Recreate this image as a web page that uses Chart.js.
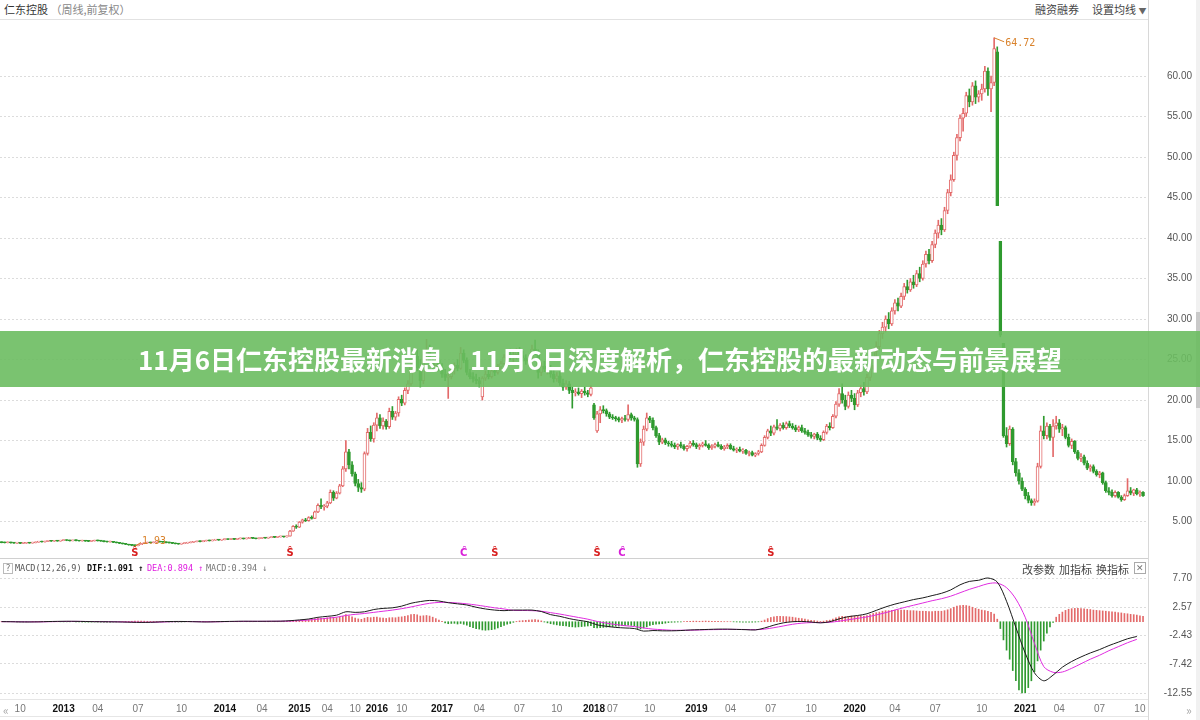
<!DOCTYPE html>
<html>
<head>
<meta charset="utf-8">
<script src="https://cdn.jsdelivr.net/npm/chart.js@4.4.1/dist/chart.umd.min.js"></script>
<style>
body{margin:0;width:1200px;height:720px;overflow:hidden;background:#fff;position:relative;font-family:"Noto Sans CJK SC",sans-serif}
.abs{position:absolute}
.ln{position:absolute;background:#e2e2e2}
#banner{left:0;top:331px;width:1200px;height:56px;background:rgba(108,188,96,0.9);color:#fff;font-weight:bold;font-size:26px;line-height:56px;text-align:center;letter-spacing:0px}
.leg{font-family:"DejaVu Sans Mono",monospace;font-size:8.5px;top:563px}
.btn{font-size:11px;color:#444;top:561px}
</style>
</head>
<body>
<div class="abs" style="left:4px;top:1px;font-size:11px;color:#333">仁东控股 <span style="color:#888">（周线,前复权）</span></div>
<div class="abs" style="left:1035px;top:1px;font-size:11px;color:#444">融资融券</div>
<div class="abs" style="left:1092px;top:1px;font-size:11px;color:#444">设置均线 <span style="font-size:8px;color:#666">▼</span></div>
<div class="ln" style="left:0;top:19px;width:1148px;height:1px"></div>
<div class="ln" style="left:1148px;top:0;width:1px;height:720px;background:#d8d8d8"></div>
<div class="ln" style="left:0;top:558px;width:1148px;height:1px;background:#d0d0d0"></div>
<div class="ln" style="left:0;top:699px;width:1148px;height:1px;background:#e6e6e6"></div>
<div class="ln" style="left:0;top:716px;width:1148px;height:1px;background:#e6e6e6"></div>
<div class="ln" style="left:1196px;top:0;width:4px;height:720px;background:#f1f1f1"></div>
<div class="ln" style="left:1196px;top:312px;width:4px;height:96px;background:#c9c9c9"></div>

<canvas id="kline" class="abs" style="left:0;top:20px" width="1200" height="538"></canvas>
<canvas id="macd" class="abs" style="left:0;top:560px" width="1200" height="160"></canvas>

<div class="abs leg" style="left:3px;color:#777;border:1px solid #bbb;width:8px;height:9px;line-height:9px;text-align:center">?</div>
<div class="abs leg" style="left:15px;color:#555">MACD(12,26,9)</div>
<div class="abs leg" style="left:87px;color:#111;font-weight:bold">DIF:1.091 ↑</div>
<div class="abs leg" style="left:147px;color:#e020e0">DEA:0.894 ↑</div>
<div class="abs leg" style="left:206px;color:#777">MACD:0.394 ↓</div>
<div class="abs btn" style="left:1022px">改参数</div>
<div class="abs btn" style="left:1059px">加指标</div>
<div class="abs btn" style="left:1096px">换指标</div>
<div class="abs" style="left:1134px;top:562px;width:10px;height:10px;border:1px solid #aaa;font-size:9px;line-height:10px;text-align:center;color:#777">✕</div>
<div class="abs" style="left:3px;top:701px;font-size:12px;color:#aaa">«</div>
<div class="abs" style="left:1186px;top:701px;font-size:12px;color:#aaa">»</div>

<div id="banner" class="abs">11月6日仁东控股最新消息，11月6日深度解析，仁东控股的最新动态与前景展望</div>

<script>
// weekly candles [open, high, low, close]
const era2012 = [
  [2.42,2.45,2.37,2.40],[2.40,2.43,2.35,2.38],[2.38,2.45,2.36,2.42],[2.42,2.43,2.34,2.36],[2.36,2.38,2.30,2.33],
  [2.33,2.38,2.31,2.35],[2.35,2.36,2.28,2.30],[2.30,2.35,2.28,2.32],[2.32,2.39,2.31,2.36],[2.36,2.38,2.31,2.34],
  [2.34,2.41,2.33,2.38],[2.38,2.48,2.36,2.45],[2.45,2.56,2.44,2.52],[2.52,2.54,2.45,2.48],[2.48,2.58,2.46,2.55],
  [2.55,2.64,2.53,2.60],[2.60,2.62,2.54,2.57],[2.57,2.66,2.55,2.62],[2.62,2.64,2.56,2.58],[2.58,2.68,2.57,2.65],
  [2.65,2.74,2.63,2.70],[2.70,2.72,2.63,2.66],[2.66,2.68,2.59,2.62],[2.62,2.71,2.60,2.68],[2.68,2.70,2.61,2.64],
  [2.64,2.66,2.57,2.60],[2.60,2.67,2.58,2.63],[2.63,2.65,2.55,2.58],[2.58,2.60,2.52,2.55],[2.55,2.63,2.53,2.60],
  [2.60,2.70,2.58,2.66],[2.66,2.68,2.59,2.62],[2.62,2.64,2.55,2.58],[2.58,2.60,2.49,2.52],[2.52,2.54,2.45,2.48],
  [2.48,2.54,2.46,2.50],[2.50,2.52,2.39,2.42],[2.42,2.44,2.35,2.38],[2.38,2.40,2.27,2.30],[2.30,2.32,2.22,2.25],
  [2.25,2.27,2.15,2.18],[2.18,2.20,2.07,2.10],[2.10,2.12,2.01,2.05],[2.05,2.08,1.93,2.02],[2.02,2.18,2.00,2.15],
  [2.15,2.32,2.13,2.28],[2.28,2.38,2.26,2.35],[2.35,2.46,2.33,2.42],[2.42,2.44,2.34,2.38],[2.38,2.48,2.36,2.45],
  [2.45,2.56,2.43,2.52],[2.52,2.54,2.45,2.48],[2.48,2.50,2.41,2.44],[2.44,2.46,2.37,2.40],[2.40,2.42,2.33,2.36],
  [2.36,2.38,2.27,2.30],[2.30,2.32,2.23,2.26],[2.26,2.28,2.19,2.22],[2.22,2.31,2.20,2.28],[2.28,2.37,2.26,2.34],
  [2.34,2.41,2.32,2.38],[2.38,2.47,2.36,2.44],[2.44,2.53,2.42,2.50],[2.50,2.59,2.48,2.56],[2.56,2.58,2.49,2.52],
  [2.52,2.63,2.50,2.60],[2.60,2.69,2.58,2.66],[2.66,2.68,2.59,2.62],[2.62,2.73,2.60,2.70],[2.70,2.78,2.68,2.74],
  [2.74,2.76,2.67,2.70],[2.70,2.79,2.68,2.76],[2.76,2.84,2.74,2.80],[2.80,2.82,2.75,2.78],[2.78,2.88,2.76,2.84],
  [2.84,2.86,2.77,2.80],[2.80,2.90,2.78,2.86],[2.86,2.94,2.84,2.90],[2.90,2.92,2.83,2.86],[2.86,2.96,2.84,2.92],
  [2.92,3.00,2.90,2.96],[2.96,2.98,2.89,2.92],[2.92,2.94,2.85,2.88],[2.88,2.97,2.86,2.94],[2.94,3.04,2.92,3.00],
  [3.00,3.02,2.93,2.96],[2.96,3.06,2.94,3.02],[3.02,3.12,3.00,3.08],[3.08,3.10,3.01,3.04],[3.04,3.14,3.02,3.10],
  [3.10,3.18,3.08,3.14],[3.14,3.16,3.06,3.10],[3.10,3.24,3.08,3.20]
];
const era2015 = [
  [3.20,3.90,3.18,3.82],[3.82,4.50,3.78,4.40],[4.40,4.60,4.15,4.30],[4.30,5.00,4.25,4.92],[4.92,5.30,4.80,5.20],
  [5.20,5.40,5.00,5.10],[5.10,5.60,5.05,5.50],[5.50,5.70,5.30,5.40],[5.40,6.30,5.35,6.20],[6.20,7.20,6.10,7.00],
  [7.00,7.80,6.60,6.80],[6.80,7.10,6.40,6.90],[6.90,7.50,6.70,7.30],[7.30,8.90,7.20,8.60],[8.60,8.80,7.60,7.90],
  [7.90,8.70,7.80,8.50],[8.50,9.60,8.40,9.40],[9.40,11.80,9.30,11.50],[11.50,15.00,11.20,13.60],[13.60,13.90,11.50,12.00],
  [12.00,12.40,10.60,10.90],[10.90,11.10,9.40,9.70],[9.70,10.20,8.70,9.20],[9.20,9.80,8.60,9.00],[9.00,13.60,8.80,13.40],
  [13.40,16.50,13.20,16.00],[16.00,16.80,14.90,15.20],[15.20,17.20,14.80,16.90],[16.90,18.40,16.20,17.80],[17.80,18.20,16.50,16.80],
  [16.80,17.80,16.40,17.40],[17.40,17.60,16.40,16.70],[16.70,19.00,16.50,18.60],[18.60,19.20,17.60,17.90],[17.90,18.60,17.50,18.40],
  [18.40,20.40,18.00,20.10],[20.10,20.60,19.30,19.60],[19.60,21.50,19.40,21.20],[21.20,22.40,20.80,22.00],[22.00,24.50,21.80,24.20],
  [24.20,25.80,23.40,25.40],[25.40,26.20,23.60,24.00],[24.00,25.00,21.60,22.40],[22.40,26.00,22.00,25.60],[25.60,27.50,24.80,26.20],
  [26.20,26.80,24.40,24.80],[24.80,25.30,23.60,24.20],[24.20,25.20,23.80,24.90]
];
const era2017 = [
  [24.90,25.20,23.60,24.00],[24.00,24.50,22.80,23.20],[23.20,23.80,22.40,22.80],[22.80,23.30,20.20,22.90],[22.90,24.20,22.60,23.80],
  [23.80,24.60,23.20,24.30],[24.30,25.00,23.60,23.90],[23.90,26.50,23.80,25.80],[25.80,26.20,24.60,24.90],[24.90,25.20,23.10,23.40],
  [23.40,23.80,22.60,22.90],[22.90,23.40,22.20,22.60],[22.60,23.20,22.00,22.40],[22.40,22.80,21.60,22.00],[20.40,22.90,20.00,22.70],
  [22.70,23.60,22.40,23.20],[23.20,23.80,22.60,22.90],[22.90,23.90,22.70,23.60],[23.60,24.20,23.00,23.40],[23.40,24.40,23.20,24.10],
  [24.10,24.80,23.70,24.50],[24.50,25.60,24.30,25.30],[25.30,26.10,24.90,25.60],[25.60,26.30,25.00,25.20],[25.20,25.90,24.60,25.60],
  [25.60,26.40,25.10,26.00],[26.00,26.50,25.20,25.50],[25.50,26.00,24.80,25.20],[25.20,25.60,24.40,24.80],[24.80,25.40,24.20,25.00],
  [25.00,26.80,24.80,26.30],[26.30,27.40,25.60,25.90],[25.90,26.20,22.70,23.40],[23.40,24.60,23.00,24.20],[24.20,24.80,23.50,23.80],
  [23.80,24.40,23.20,24.00],[24.00,24.30,22.80,23.20],[23.20,23.70,22.20,22.60],[22.60,23.40,22.30,23.00],[23.00,23.50,21.80,22.10],
  [22.10,22.60,21.20,21.60],[21.60,22.40,21.30,22.00],[22.00,22.30,20.80,21.20],[21.20,21.60,19.00,20.90],[20.90,21.40,20.50,21.00],
  [21.00,21.50,20.60,20.80],[20.80,21.30,20.30,21.10],[21.10,21.60,20.60,20.90],[20.90,21.20,20.40,20.70],[20.70,21.80,20.50,21.50],
  [19.40,19.60,17.60,17.80],[16.20,18.60,16.00,18.30],[18.30,19.20,17.20,18.80],[18.80,19.30,18.40,18.70],[18.70,18.90,18.00,18.30],
  [18.30,18.50,17.70,17.90],[17.90,18.20,17.60,17.80],[17.80,18.00,17.40,17.70],[17.70,17.90,17.30,17.50],[17.50,17.90,17.20,17.70],
  [17.70,18.10,17.40,17.60],[17.60,19.40,17.40,18.20],[18.20,18.40,17.50,17.80],[17.80,18.00,17.40,17.60],[17.60,17.80,11.70,12.10],
  [12.10,15.20,11.80,14.80],[14.80,16.80,14.40,16.40],[16.40,18.40,16.20,17.80],[17.80,18.00,17.20,17.50],[17.50,17.80,16.30,16.60],
  [16.60,16.80,15.40,15.60],[15.60,15.90,14.50,14.80],[14.80,15.30,14.60,15.10],[15.10,15.30,14.50,14.70],[14.70,14.90,14.30,14.60]
];
const era2019 = [
  [14.60,14.90,14.20,14.40],[14.40,14.70,14.00,14.20],[14.20,14.60,13.90,14.50],[14.50,14.80,14.10,14.30],[14.30,14.50,13.80,14.00],
  [14.00,14.40,13.70,14.30],[14.30,14.90,14.10,14.70],[14.70,15.00,14.30,14.50],[14.50,14.70,14.00,14.20],[14.20,14.60,13.90,14.40],
  [14.40,14.80,14.20,14.60],[14.60,15.00,14.30,14.40],[14.40,14.60,13.90,14.10],[14.10,14.50,13.90,14.30],[14.30,14.70,14.10,14.50],
  [14.50,14.80,14.20,14.30],[14.30,14.50,13.90,14.00],[14.00,14.40,13.80,14.20],[14.20,14.60,14.00,14.40],[14.40,14.60,13.90,14.00],
  [14.00,14.30,13.70,13.80],[13.80,14.10,13.50,13.90],[13.90,14.20,13.60,13.70],[13.70,14.00,13.40,13.80],[13.80,13.90,13.30,13.40],
  [13.40,13.70,13.10,13.50],[13.50,13.70,13.10,13.20],[13.20,13.50,13.00,13.40],[13.40,13.80,13.20,13.60],[13.60,14.60,13.50,14.40],
  [14.40,15.60,14.30,15.40],[15.40,16.40,15.20,16.20],[16.20,16.80,15.60,15.90],[15.90,16.90,15.70,16.70],[16.70,17.60,16.30,16.50],
  [16.50,17.10,16.20,16.90],[16.90,17.20,16.40,16.60],[16.60,17.30,16.40,17.10],[17.10,17.40,16.60,16.80],[16.80,17.10,16.40,16.60],
  [16.60,16.90,16.10,16.30],[16.30,16.80,16.10,16.60],[16.60,16.90,16.00,16.20],[16.20,16.50,15.80,16.00],[16.00,16.30,15.50,15.70],
  [15.70,16.00,15.30,15.50],[15.50,15.90,15.20,15.80],[15.80,16.00,15.10,15.30],[15.30,15.60,14.90,15.10],[15.10,16.20,15.00,16.00],
  [16.00,17.00,15.80,16.80],[16.80,17.20,16.30,16.60],[16.60,18.20,16.50,18.00],[18.00,19.80,17.80,19.50],[19.50,21.40,19.20,20.80],
  [20.80,22.00,19.60,20.00],[20.00,20.60,18.80,19.20],[19.20,21.00,19.00,20.60],[20.60,21.20,19.80,20.20],[20.20,20.80,18.80,19.40],
  [19.40,21.20,19.20,20.90],[20.90,21.80,20.40,21.40],[21.40,22.20,20.60,21.00],[21.00,23.20,20.80,22.80],[22.80,24.60,22.40,24.20],
  [24.20,26.40,23.80,26.00],[26.00,27.20,25.20,26.60],[26.60,28.60,26.20,28.20],[28.20,29.60,27.60,29.00],[29.00,30.40,28.40,30.00],
  [30.00,30.80,28.80,29.40],[29.40,31.40,29.20,31.00],[31.00,32.40,30.60,32.00],[32.00,32.60,31.00,31.60],[31.60,33.20,31.40,32.80],
  [32.80,34.40,32.40,34.00],[34.00,34.80,33.20,33.60],[33.60,35.00,33.40,34.60],[34.60,35.40,33.80,34.20],[34.20,36.00,34.00,35.60],
  [35.60,36.40,34.60,35.00],[35.00,37.20,34.80,36.80],[36.80,38.40,36.40,38.00],[38.00,38.60,36.80,37.20],[37.20,39.60,37.00,39.20],
  [39.20,41.00,38.80,40.60],[40.60,42.20,40.00,41.60],[41.60,42.40,40.40,41.00],[41.00,43.80,40.80,43.40],[43.40,46.00,43.00,45.60],
  [45.60,47.80,45.20,47.20],[47.20,50.60,47.00,50.20],[50.20,52.80,49.60,52.40],[52.40,55.20,52.00,54.80],[54.80,56.00,53.20,55.40],
  [55.40,58.00,55.00,57.60],[57.60,58.40,56.20,56.80],[56.80,59.20,56.40,58.80],[58.80,59.40,56.60,57.40],[57.40,58.20,56.80,57.80],
  [57.80,59.00,57.00,58.40],[58.40,61.20,58.00,60.60],[60.60,61.00,57.60,58.40],[58.40,60.00,55.60,59.20],[59.20,64.72,58.80,63.40]
];
const era2021 = [
  [63.00,63.60,44.00,44.00],[39.60,39.60,27.80,28.00],[27.00,27.00,15.40,15.60],[15.60,16.60,14.20,14.60],[14.60,16.80,14.40,16.40],
  [16.40,16.60,12.00,12.40],[12.40,12.80,10.60,11.00],[11.00,11.40,9.60,10.00],[10.00,10.40,8.80,9.00],[9.00,9.20,7.80,8.20],
  [8.20,8.60,7.30,7.60],[7.60,7.80,7.00,7.30],[7.30,7.80,7.00,7.50],[7.50,12.20,7.40,11.80],[11.80,16.80,11.60,16.20],
  [16.20,18.00,15.20,15.60],[15.60,17.20,15.20,16.80],[16.80,17.00,15.00,15.40],[15.40,17.60,13.00,16.80],[16.80,18.00,16.40,17.20],
  [17.20,17.60,16.00,16.40],[16.40,17.00,15.60,16.60],[16.60,16.80,15.20,15.40],[15.40,15.80,14.20,14.40],[14.40,15.20,14.00,14.90],
  [14.90,15.00,13.40,13.60],[13.60,13.80,12.60,12.80],[12.80,13.40,12.40,13.00],[13.00,13.20,12.00,12.20],[12.20,12.50,11.40,11.60],
  [11.60,12.00,11.20,11.80],[11.80,12.00,11.00,11.20],[11.20,11.40,10.60,10.80],[10.80,11.20,10.40,11.00],[11.00,11.10,9.60,9.80],
  [9.80,10.00,8.60,8.80],[8.80,9.20,8.30,8.60],[8.60,8.90,8.00,8.20],[8.20,8.80,8.00,8.60],[8.60,8.70,7.90,8.00],
  [8.00,8.20,7.50,7.70],[7.70,8.40,7.60,8.20],[8.20,10.30,8.10,8.80],[8.80,9.20,8.30,8.50],[8.50,9.00,8.20,8.90],
  [8.90,9.10,8.30,8.40],[8.40,8.80,8.10,8.60],[8.60,8.70,8.10,8.20]
];

// MACD(12,26,9): DIF / DEA read every 3 weeks, histogram every week
const difEvery3 = [
  0.02,0.00,-0.03,-0.04,-0.02,0.03,0.06,0.08,0.07,0.04,0.01,0.00,-0.02,-0.05,-0.09,-0.12,-0.10,-0.03,0.03,0.05,
  0.03,-0.01,-0.04,0.00,0.04,0.07,0.09,0.08,0.08,0.09,0.10,
  0.18,0.32,0.48,0.78,0.95,1.15,1.75,1.65,1.75,2.15,2.35,2.45,2.75,3.25,3.55,3.75,3.65,3.35,3.15,2.95,
  2.55,2.25,2.05,1.95,2.05,2.05,2.05,1.80,1.25,0.95,0.55,0.25,0.00,-0.55,-0.80,-1.00,-1.10,-1.20,-1.65,-1.55,
  -1.60,-1.60,-1.55,-1.45,-1.40,-1.35,-1.30,-1.30,-1.35,-1.40,-1.45,-1.10,-0.60,-0.20,0.00,0.05,-0.05,-0.20,0.00,0.50,
  0.90,1.10,1.40,2.00,2.60,3.10,3.50,3.90,4.20,4.60,5.00,5.60,6.50,7.10,7.30,7.70,7.00,3.60,-1.00,-5.50,
  -9.00,-10.40,-9.40,-8.00,-7.00,-6.20,-5.50,-4.90,-4.20,-3.60,-3.00,-2.60
];
const deaEvery3 = [
  0.01,0.01,-0.01,-0.02,-0.02,0.00,0.03,0.05,0.06,0.05,0.03,0.01,0.00,-0.03,-0.06,-0.09,-0.09,-0.06,-0.01,0.02,
  0.03,0.01,-0.01,-0.01,0.02,0.04,0.06,0.07,0.07,0.08,0.09,
  0.12,0.20,0.30,0.45,0.62,0.80,1.10,1.30,1.45,1.65,1.85,2.05,2.30,2.60,2.95,3.25,3.40,3.40,3.30,3.15,
  2.95,2.70,2.45,2.25,2.00,1.98,1.95,1.85,1.60,1.35,1.05,0.75,0.45,0.05,-0.25,-0.50,-0.70,-0.85,-1.10,-1.30,
  -1.40,-1.50,-1.50,-1.50,-1.45,-1.40,-1.38,-1.35,-1.35,-1.37,-1.40,-1.30,-1.05,-0.75,-0.45,-0.25,-0.15,-0.15,-0.10,0.10,
  0.35,0.60,0.85,1.20,1.60,2.05,2.50,2.90,3.30,3.70,4.05,4.50,5.10,5.70,6.20,6.70,6.80,6.00,4.00,0.80,
  -3.80,-7.90,-8.90,-8.85,-8.20,-7.40,-6.60,-5.90,-5.10,-4.40,-3.70,-3.10
];
const macdHist = [
  0.02,0.02,0.01,0.00,-0.01,-0.02,-0.03,-0.03,-0.02,-0.01, 0.02,0.04,0.05,0.06,0.06,0.05,0.04,0.02,0.00,-0.01,
  -0.02,-0.02,-0.01,0.00,-0.02,-0.04,-0.05,-0.06,-0.06,-0.05, -0.04,-0.05,-0.06,-0.06,-0.07,-0.06,-0.05,-0.03,0.00,0.03,
  0.05,0.06,0.08,0.10,0.11,0.12,0.10,0.08,0.06,0.05, 0.04,0.03,0.01,0.00,-0.02,-0.04,-0.05,-0.05,-0.04,-0.02,
  0.00,0.02,0.03,0.04,0.05,0.05,0.05,0.04,0.04,0.03, 0.03,0.02,0.02,0.03,0.02,0.02,0.02,0.01,0.02,0.02,
  0.02,0.01,0.00,0.01,0.02,0.02,0.02,0.02,0.03,0.02, 0.02,0.03,0.06,
  0.12,0.16,0.18,0.22,0.26,0.30,0.34,
  0.42,0.52,0.62,0.58,0.62,0.68,0.78,0.72,0.70,0.78, 0.95,1.25,1.05,0.85,0.65,0.50,0.42,0.62,0.78,0.72,
  0.80,0.84,0.70,0.64,0.58,0.70,0.72,0.70,0.82,0.86, 0.96,1.10,1.26,1.30,1.22,1.00,1.05,1.10,1.00,0.80,
  0.55,0.30,0.05,-0.20,-0.35,-0.30,-0.28,-0.40,-0.30,-0.45,
  -0.60,-0.85,-1.05,-1.20,-1.30,-1.45,-1.50,-1.45,-1.40,-1.30, -1.10,-0.85,-0.65,-0.45,-0.30,
  -0.10,0.05,0.15,0.20,0.25,0.30,0.35,0.40,0.30,0.15,-0.05,-0.20,-0.35,-0.45,-0.55,
  -0.65,-0.70,-0.75,-0.85,-0.90,-0.95,-0.90,-0.85,-0.80,-0.75, -0.70,-1.05,-1.10,-1.05,-1.00,-0.95,-0.90,-0.85,-0.80,-0.75,
  -0.70,-0.68,-0.62,-0.65,-0.70,-1.20,-1.25,-1.10,-0.90,-0.65, -0.50,-0.45,-0.40,-0.35,-0.25,-0.15,
  -0.10,-0.08,-0.05,-0.02,0.02,0.05,0.08,0.10,0.10,0.08, 0.10,0.12,0.10,0.08,0.08,0.06,0.04,0.02,0.02,0.00,
  -0.02,-0.04,-0.06,-0.06,-0.08,-0.08,-0.08,-0.06,-0.02,0.10,
  0.30,0.55,0.75,0.85,0.95,0.95,0.92,0.90,0.85,0.80, 0.70,0.62,0.55,0.45,0.35,0.25,0.20,0.12,0.05,0.10,
  0.22,0.28,0.45,0.70,
  0.85,0.95,0.90,0.90,1.00,0.95,1.00,1.05,1.00,1.10, 1.25,1.45,1.60,1.70,1.85,1.95,1.95,2.00,2.05,2.05,
  2.05,2.05,2.00,1.95,1.95,1.90,1.85,1.85,1.85,1.80,
  1.80,1.85,1.85,1.85,1.95,2.10,2.30,2.55,2.75,2.85, 2.90,2.85,2.75,2.55,2.35,2.20,2.05,1.95,1.85,1.65,1.35,
  0.45,-1.20,-3.20,-5.00,-6.60,-8.60,-10.40,-12.00,-12.55,
  -12.50,-11.60,-10.40,-8.80,-6.90,-5.00,-3.40,-2.00,-0.90,-0.10,
  0.80,1.30,1.70,2.00,2.20,2.30,2.35,2.35,2.30,2.25, 2.20,2.15,2.05,2.00,1.95,1.90,1.85,1.80,1.75,1.70,
  1.60,1.55,1.45,1.40,1.30,1.25,1.15,1.05,0.95
];

// axis labels (week index -> label)
const timeTickIdx = [6,20,31,44,58,72,84,96,105,114,121,129,142,154,167,179,191,197,209,224,235,248,261,275,288,301,316,330,341,354,367];
const timeTickText = ['10','2013','04','07','10','2014','04','2015','04','10','2016','10','2017','04','07','10','2018','07','10','2019','04','07','10','2020','04','07','10','2021','04','07','10'];
const priceTicks = [5,10,15,20,25,30,35,40,45,50,55,60];
const macdTicks = [7.70,2.57,-2.43,-7.42,-12.55];
const signalS = [43,93,159,192,248];
const signalC = [149,200];

const RED = '#e36a6a', GREEN = '#2f9a2f';
const candles = [...era2012, ...era2015, ...era2017, ...era2019, ...era2021];
const isUp = candles.map(c => c[3] >= c[0]);
const xMax = 369.6;

const markPlugin = {
  id: 'marks',
  afterDatasetsDraw(chart) {
    const {ctx, scales} = chart;
    const x = scales.x, y = scales.y;
    ctx.save();
    ctx.font = 'bold 10px "DejaVu Sans"';
    ctx.textAlign = 'center';
    ctx.textBaseline = 'alphabetic';
    signalS.forEach(i => { ctx.fillStyle = '#d81e1e'; ctx.fillText('Ŝ', x.getPixelForValue(i), 536); });
    signalC.forEach(i => { ctx.fillStyle = '#d81ed8'; ctx.fillText('Ĉ', x.getPixelForValue(i), 536); });
    // lowest / highest price labels
    let lo = 0, hi = 0;
    candles.forEach((c, i) => { if (c[2] < candles[lo][2]) lo = i; if (c[1] > candles[hi][1]) hi = i; });
    ctx.font = '10px "DejaVu Sans Mono"';
    ctx.textAlign = 'left';
    ctx.strokeStyle = '#d9822b';
    ctx.fillStyle = '#d9822b';
    ctx.lineWidth = 1;
    const lx = x.getPixelForValue(lo), ly = y.getPixelForValue(candles[lo][2]);
    ctx.beginPath(); ctx.moveTo(lx, ly); ctx.lineTo(lx + 6, ly - 4); ctx.stroke();
    ctx.fillText(candles[lo][2].toFixed(2), lx + 7, ly - 2);
    const hx = x.getPixelForValue(hi), hy = y.getPixelForValue(candles[hi][1]);
    ctx.beginPath(); ctx.moveTo(hx, hy); ctx.lineTo(hx + 10, hy + 4); ctx.stroke();
    ctx.fillText(candles[hi][1].toFixed(2), hx + 11, hy + 8);
    ctx.restore();
  }
};

const gridStyle = { color: '#dcdcdc', drawTicks: false };
const gridBorder = { display: false, dash: [2, 2] };
const yTickFont = { family: '"Liberation Sans"', size: 10 };
// keep the plot edges where the layout padding puts them
const fitRightAxis = s => { s.width = 44; s.paddingTop = 0; s.paddingBottom = 0; };

new Chart(document.getElementById('kline'), {
  type: 'bar',
  data: {
    datasets: [
      {
        label: 'body',
        order: 0,
        data: candles.map((c, i) => ({ x: i, y: [c[0], c[3]] })),
        backgroundColor: isUp.map(u => u ? '#ffffff' : GREEN),
        borderColor: isUp.map(u => u ? RED : GREEN),
        borderWidth: 1,
        borderSkipped: false,
        barThickness: 3,
        minBarLength: 1,
        grouped: false
      },
      {
        label: 'wick',
        order: 1,
        data: candles.map((c, i) => ({ x: i, y: [c[2], c[1]] })),
        backgroundColor: isUp.map(u => u ? RED : GREEN),
        borderWidth: 0,
        barThickness: 1,
        minBarLength: 1,
        grouped: false
      }
    ]
  },
  options: {
    responsive: false,
    animation: false,
    devicePixelRatio: 1,
    layout: { padding: { top: 5, bottom: 6, right: 8, left: 0 } },
    plugins: { legend: { display: false }, tooltip: { enabled: false } },
    scales: {
      x: { type: 'linear', min: -0.5, max: xMax, offset: false, display: false },
      y: {
        position: 'right',
        min: 1.24, max: 66.30,
        afterBuildTicks: s => { s.ticks = priceTicks.map(v => ({ value: v })); },
        afterFit: fitRightAxis,
        grid: gridStyle,
        border: gridBorder,
        ticks: { font: yTickFont, color: '#555', padding: 14, crossAlign: 'far', callback: v => Number(v).toFixed(2) }
      }
    }
  },
  plugins: [markPlugin]
});

new Chart(document.getElementById('macd'), {
  type: 'bar',
  data: {
    datasets: [
      {
        type: 'line', label: 'DIF', order: 0,
        data: difEvery3.map((v, k) => ({ x: k * 3, y: v })),
        borderColor: '#1a1a1a', borderWidth: 1, pointRadius: 0, tension: 0.3
      },
      {
        type: 'line', label: 'DEA', order: 1,
        data: deaEvery3.map((v, k) => ({ x: k * 3, y: v })),
        borderColor: '#e02ce0', borderWidth: 1, pointRadius: 0, tension: 0.3
      },
      {
        label: 'MACD', order: 2,
        data: macdHist.map((v, i) => ({ x: i, y: v })),
        backgroundColor: macdHist.map(v => v >= 0 ? RED : GREEN),
        barThickness: 1, borderWidth: 0, grouped: false
      }
    ]
  },
  options: {
    responsive: false,
    animation: false,
    devicePixelRatio: 1,
    layout: { padding: { top: 12, bottom: 0, right: 8, left: 0 } },
    plugins: { legend: { display: false }, tooltip: { enabled: false } },
    scales: {
      x: {
        type: 'linear', min: -0.5, max: xMax, offset: false,
        afterBuildTicks: s => { s.ticks = timeTickIdx.map(v => ({ value: v })); },
        afterFit: s => { s.height = 22; s.paddingLeft = 0; s.paddingRight = 0; },
        grid: { display: false, drawTicks: false },
        border: { display: false },
        ticks: {
          autoSkip: false, maxRotation: 0, padding: 5,
          callback: v => timeTickText[timeTickIdx.indexOf(v)],
          color: c => (timeTickText[timeTickIdx.indexOf(c.tick && c.tick.value)] || '').length === 4 ? '#111' : '#777',
          font: c => ({ family: '"Liberation Sans"', size: 10, weight: (timeTickText[timeTickIdx.indexOf(c.tick && c.tick.value)] || '').length === 4 ? 'bold' : 'normal' })
        }
      },
      y: {
        position: 'right',
        min: -13.43, max: 8.757,
        afterBuildTicks: s => { s.ticks = macdTicks.map(v => ({ value: v })); },
        afterFit: fitRightAxis,
        grid: gridStyle,
        border: gridBorder,
        ticks: { font: yTickFont, color: '#555', padding: 14, crossAlign: 'far', callback: v => Number(v).toFixed(2) }
      }
    }
  }
});
</script>
</body>
</html>
